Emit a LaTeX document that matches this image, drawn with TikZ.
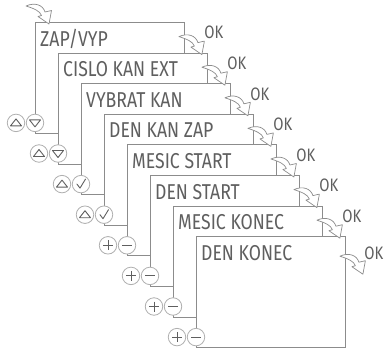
\documentclass[tikz,border=0pt]{standalone}
\usepackage{fontspec}
\newfontfamily\lcdfont[FakeStretch=0.82]{Fira Sans}
\usepackage{tikz}
\usetikzlibrary{positioning, calc}
\definecolor{FrameGray}{RGB}{140,140,140}
\definecolor{TextGray}{RGB}{95,95,95}
\definecolor{KeyGray}{RGB}{175,175,175}

\tikzset{
  screen/.style={draw=FrameGray, fill=white, line width=0.9pt, minimum width=149pt,
    minimum height=111pt, inner sep=0pt, anchor=north west},
  lcd/.style={text=TextGray, font=\lcdfont\fontsize{21.5}{22}\selectfont, inner sep=0pt, anchor=base west},
  oklbl/.style={text=TextGray, font=\lcdfont\fontsize{18}{18}\selectfont, inner sep=0pt},
  key/.style={circle, draw=KeyGray, fill=white, line width=0.8pt, minimum size=17.5pt, inner sep=0pt},
  sym/.style={draw=TextGray, line width=0.9pt, line join=round},
  okarrow/.pic={
    \draw[draw=FrameGray, fill=white, line width=0.7pt, line join=round]
      (-6,-1) .. controls (3,-5) and (11,-2) .. (13,5) -- (19.5,3.5) -- (17,17)
      -- (6,9.5) -- (9.5,8.5) .. controls (8,4) and (2,1.5) .. (-6,-1) -- cycle;
  }
}

\begin{document}
\begin{tikzpicture}[x=1pt, y=-1pt]
\useasboundingbox (0,0) rectangle (384,349);

% the eight screens
\foreach \name [count=\i from 0] in {{ZAP/VYP}, {CISLO KAN EXT}, {VYBRAT KAN}, {DEN KAN ZAP},
    {MESIC START}, {DEN START}, {MESIC KONEC}, {DEN KONEC}}{
  \node[screen] (scr\i) at ({35+23*\i}, {22+30.6*\i}) {};
  \node[lcd] (lbl\i) at ([xshift=5pt, yshift=-24pt]scr\i.north west) {\name};
  \node[key] (lk\i) at ([xshift=-19pt, yshift=11pt]scr\i.south west) {};
  \node[key] (rk\i) at ([yshift=11pt]scr\i.south west) {};
}

% key symbols
\foreach \i in {0,1}{
  \draw[sym, shift={(lk\i.center)}] (-5.5,3) -- (5.5,3) -- (0,-4) -- cycle;
  \draw[sym, shift={(rk\i.center)}] (-5.5,-3) -- (5.5,-3) -- (0,4) -- cycle;
}
\foreach \i in {2,3}{
  \draw[sym, shift={(lk\i.center)}] (-5.5,3) -- (5.5,3) -- (0,-4) -- cycle;
  \draw[sym, line cap=round, shift={(rk\i.center)}] (-4,0) -- (-1,4) -- (4.5,-5);
}
\foreach \i in {4,...,7}{
  \draw[sym, shift={(lk\i.center)}] (-5,0) -- (5,0) (0,-5) -- (0,5);
  \draw[sym, shift={(rk\i.center)}] (-5,0) -- (5,0);
}

% OK arrows
\coordinate (entry) at ([xshift=-3pt, yshift=15pt]scr0.north west);
\pic at (entry) {okarrow};
\foreach \i [evaluate=\i as \j using int(\i+1)] in {0,...,6}{
  \coordinate (tail\i) at ([yshift=15pt]scr\j.north -| scr\i.east);
  \pic at (tail\i) {okarrow};
  \node[oklbl] (ok\i) at ([xshift=29pt, yshift=5pt]tail\i) {OK};
}
\coordinate (tail7) at ([yshift=-21pt]scr7.north east);
\pic at (tail7) {okarrow};
\node[oklbl] (ok7) at ([xshift=28pt, yshift=4pt]tail7) {OK};
\end{tikzpicture}
\end{document}
